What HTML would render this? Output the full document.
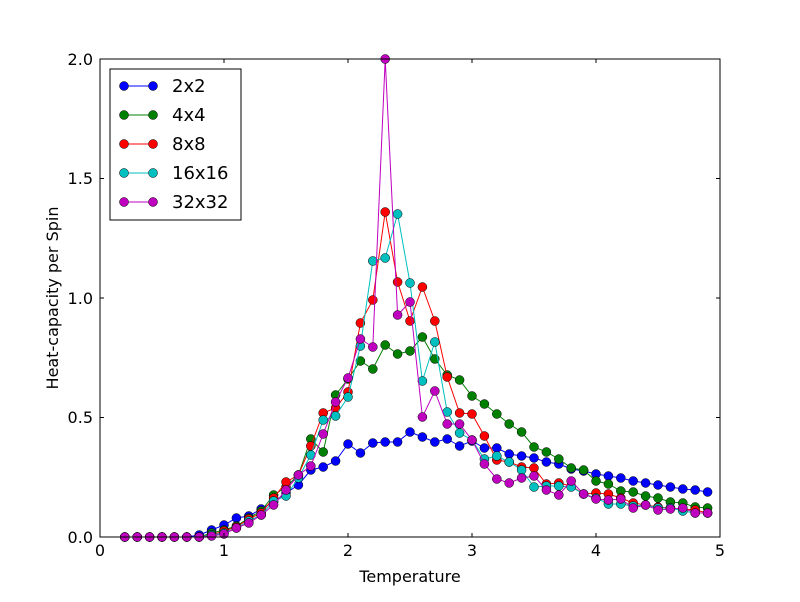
<!DOCTYPE html>
<html><head><meta charset="utf-8"><style>
body{margin:0;background:#fff;}
svg text{font-family:"DejaVu Sans","Liberation Sans",sans-serif;}
</style></head><body>
<svg id="s" width="800" height="597" xmlns="http://www.w3.org/2000/svg">
<rect width="800" height="597" fill="#fff"/>
<g id="plot"></g>
<rect x="100" y="59" width="620" height="478" fill="none" stroke="#000" stroke-width="1"/>
<g id="ticks" stroke="#000"></g>
<g font-size="16" fill="#000" text-anchor="middle">
<text x="100" y="556">0</text><text x="224" y="556">1</text><text x="348" y="556">2</text><text x="472" y="556">3</text><text x="596" y="556">4</text><text x="720" y="556">5</text>
</g>
<g font-size="16" fill="#000" text-anchor="end">
<text x="93" y="543">0.0</text><text x="93" y="423">0.5</text><text x="93" y="304">1.0</text><text x="93" y="184">1.5</text><text x="93" y="65">2.0</text>
</g>
<text x="410" y="582" font-size="16" text-anchor="middle">Temperature</text>
<text transform="translate(58,298) rotate(-90)" font-size="16" text-anchor="middle">Heat-capacity per Spin</text>
<rect x="110" y="69" width="131" height="151" fill="#fff" stroke="#000" stroke-width="1"/>
<g id="leg"></g>
</svg>
<script>
var z=[537,537,537,537,537,537,537];
var S=[
["#0000ff","2x2",[537,537,537,537,537,537,535,530,525,518,516,509,502,493,485,470,467,461,444,453,443,442,442,432,437,442,439,446,441,448,448,454,456,458,462,464,469,471,474,476,478,481,483,485,487,489,490,492]],
["#008000","4x4",z.concat([533,530,526,518,511,495,487,475,439,452,395,379,361,369,345,354,351,337,359,375,380,396,404,414,424,432,447,452,459,468,470,481,484,491,492,496,498,502,503,507,508])],
["#ff0000","8x8",z.concat([535,531,527,519,513,498,482,475,446,413,408,392,323,300,212,282,321,287,321,377,413,414,436,460,462,467,468,484,483,486,494,493,494,498,503,505,507,508,509,510,513])],
["#00bfbf","16x16",z.concat([535,533,528,521,515,501,496,478,455,420,416,397,346,261,258,214,283,381,342,412,433,440,459,456,462,470,487,486,486,487,494,498,504,504,506,505,508,508,511,513,513])],
["#bf00bf","32x32",z.concat([536,534,528,523,515,505,490,475,466,434,402,378,339,347,59,315,302,417,391,424,424,440,464,479,483,478,476,490,495,481,494,499,500,499,508,505,510,509,508,513,513])]
];
var NS="http://www.w3.org/2000/svg";
function el(p,t,a){var e=document.createElementNS(NS,t);for(var k in a)e.setAttribute(k,a[k]);p.appendChild(e);return e;}
var g=document.getElementById("plot"),lg=document.getElementById("leg");
S.forEach(function(s,i){
 var pts=s[2].map(function(y,j){return [100+124*(0.2+0.1*j),y];});
 el(g,"polyline",{points:pts.map(function(p){return p.join(",")}).join(" "),fill:"none",stroke:s[0],"stroke-width":1});
 pts.forEach(function(p){el(g,"circle",{cx:p[0],cy:p[1],r:4.5,fill:s[0],stroke:"#000","stroke-width":0.5});});
 var y=86+29*i;
 el(lg,"line",{x1:124,y1:y,x2:153,y2:y,stroke:s[0],"stroke-width":1});
 el(lg,"circle",{cx:124,cy:y,r:4.5,fill:s[0],stroke:"#000","stroke-width":0.5});
 el(lg,"circle",{cx:153,cy:y,r:4.5,fill:s[0],stroke:"#000","stroke-width":0.5});
 var t=el(lg,"text",{x:172,y:y+6,"font-size":18});t.textContent=s[1];
});
var tk=document.getElementById("ticks");
[100,224,348,472,596,720].forEach(function(x){el(tk,"line",{x1:x,y1:537,x2:x,y2:533});el(tk,"line",{x1:x,y1:59,x2:x,y2:63});});
[537,417.5,298,178.5,59].forEach(function(y){el(tk,"line",{x1:100,y1:y,x2:104,y2:y});el(tk,"line",{x1:720,y1:y,x2:716,y2:y});});
</script>
</body></html>
